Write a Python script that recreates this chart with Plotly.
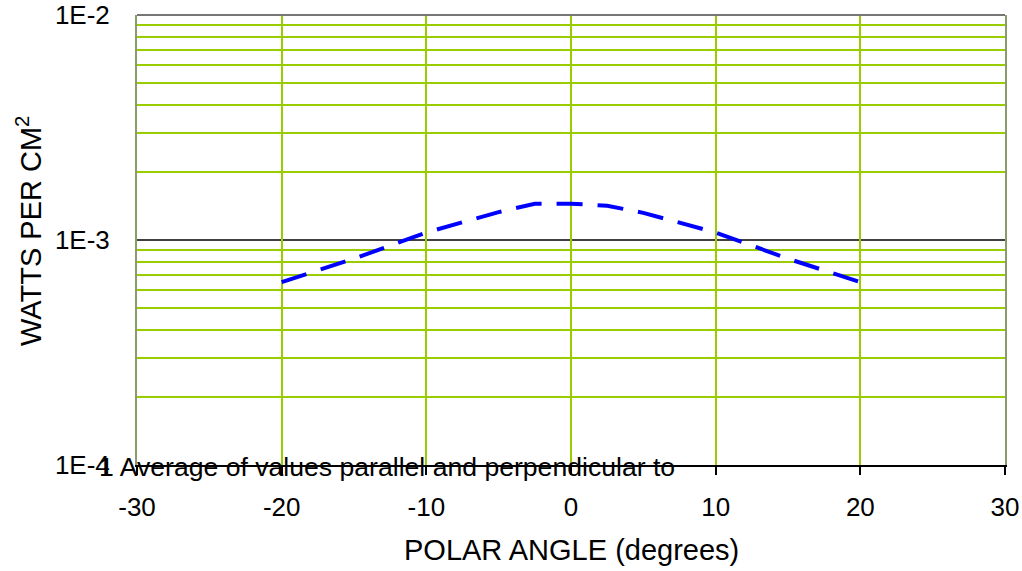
import plotly.graph_objects as go

# Data
angles = [-20, -15, -10, -5, -2.5, 0, 2.5, 5, 10, 15, 20]
watts = [6.5e-4, 8.26e-4, 1.08e-3, 1.33e-3, 1.45e-3, 1.45e-3, 1.42e-3, 1.32e-3, 1.08e-3, 8.26e-4, 6.5e-4]

x_ticks = [-30, -20, -10, 0, 10, 20, 30]
x_ticktext = ["-30", "-20", "-10", "0", "10", "20", "30"]
y_ticks = [1e-4, 1e-3, 1e-2]
y_ticktext = ["1E-4", "1E-3", "1E-2"]
y_minor = [m * 10.0 ** e for e in (-4, -3) for m in range(2, 10)]

GREEN = "#9ACD00"
FONT = "Liberation Sans, Arial, sans-serif"
FS = 26
FS_TITLE = 29
FS_NOTE = 26.6

W, H = 1022, 571
L, T, R, B = 137, 15, 17, 106
PW, PH = W - L - R, H - T - B


def px_x(x):  # pixel -> paper
    return (x - L) / PW


def px_y(y):
    return (H - B - y) / PH


fig = go.Figure()
fig.add_trace(go.Scatter(
    x=angles, y=watts, mode="lines",
    line=dict(color="#0000FF", width=4, dash="26px,15px"),
    showlegend=False, hoverinfo="skip",
))

fig.add_shape(type="line", xref="x", yref="y", x0=-30, x1=30, y0=1e-3, y1=1e-3,
              line=dict(color="black", width=1.5), layer="below")
fig.add_shape(type="line", xref="x", yref="paper", x0=0, x1=0, y0=0, y1=1,
              line=dict(color="black", width=1.5), layer="below")
fig.add_shape(type="line", xref="paper", yref="paper", x0=0, x1=1, y0=1, y1=1,
              line=dict(color="#777777", width=2))

fig.update_layout(
    width=W, height=H,
    margin=dict(l=L, r=R, t=T, b=B, autoexpand=False),
    plot_bgcolor="white", paper_bgcolor="white",
    font=dict(family=FONT, size=FS, color="black"),
    xaxis=dict(
        range=[-30, 30], tickvals=x_ticks, ticktext=x_ticktext,
        showgrid=True, gridcolor=GREEN, gridwidth=2,
        zeroline=False, automargin=False,
        showline=True, linecolor="black", linewidth=1.5,
        ticks="outside", ticklen=8, tickcolor="black", tickwidth=1.5,
        ticklabelstandoff=10, ticklabeloverflow="allow",
        tickfont=dict(size=FS),
    ),
    yaxis=dict(
        type="log", range=[-4, -2],
        tickvals=y_ticks, ticktext=y_ticktext,
        showgrid=False, zeroline=False, automargin=False,
        showline=True, linecolor="#8a9a6a", linewidth=2, mirror=True,
        ticks="", ticklabelstandoff=20, ticklabeloverflow="allow",
        minor=dict(tickvals=y_minor, showgrid=True, gridcolor=GREEN, gridwidth=2, ticks=""),
        tickfont=dict(size=FS),
    ),
    annotations=[
        dict(text="1 Average of values parallel and perpendicular to",
             xref="paper", yref="paper", x=px_x(97), y=px_y(467),
             xanchor="left", yanchor="middle", showarrow=False,
             font=dict(size=FS_NOTE, color="black")),
        dict(text="POLAR ANGLE (degrees)",
             xref="paper", yref="paper", x=px_x(571), y=px_y(550),
             xanchor="center", yanchor="middle", showarrow=False,
             font=dict(size=FS_TITLE, color="black")),
        dict(text="WATTS PER CM<sup>2</sup>",
             xref="paper", yref="paper", x=px_x(29), y=px_y(231),
             xanchor="center", yanchor="middle", textangle=-90, showarrow=False,
             font=dict(size=FS_TITLE, color="black")),
    ],
)

fig.write_html("out.html", config={"displayModeBar": False},
               post_script="document.body.style.margin='0';")
